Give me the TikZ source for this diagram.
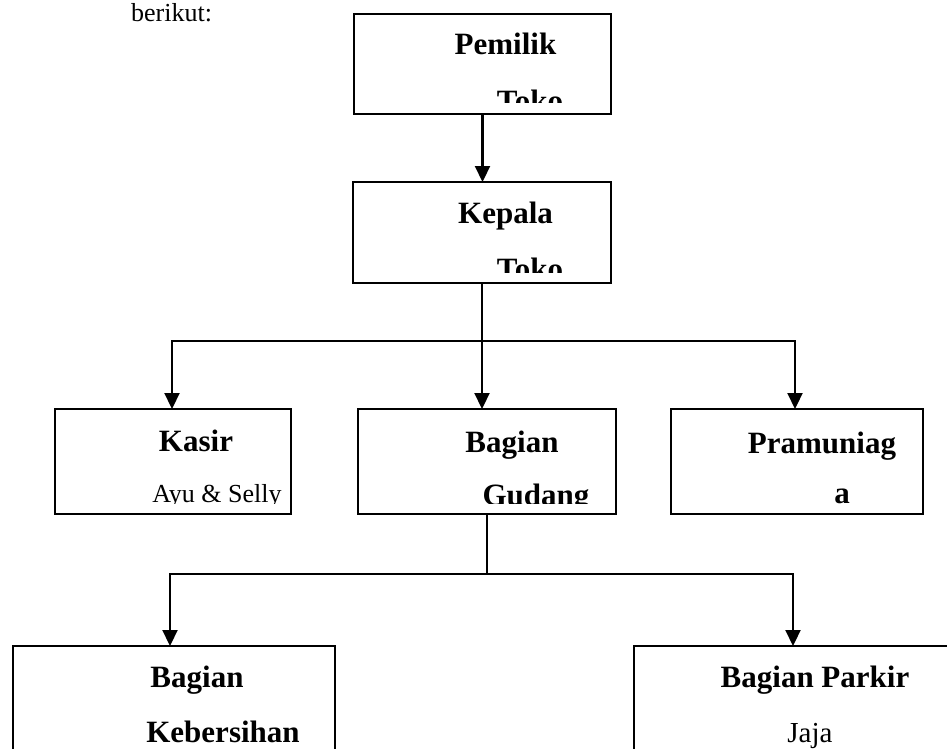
\documentclass[tikz,border=0pt]{standalone}
\usepackage{fontspec}
\setmainfont{Liberation Serif}
\usetikzlibrary{arrows.meta}
\begin{document}
\begin{tikzpicture}[x=1pt,y=-1pt,
  box/.style={draw, line width=2pt, inner sep=0pt, outer sep=0pt, anchor=north west},
  bt/.style={font=\fontsize{31}{36}\selectfont\bfseries, anchor=base, inner sep=0pt},
  rt/.style={font=\fontsize{26}{30}\selectfont, anchor=base, inner sep=0pt},
  rtl/.style={rt, font=\fontsize{29}{33}\selectfont},
  conn/.style={line width=2.2pt},
  arr/.style={conn, -{Triangle[length=16pt,width=15pt]}}
]
\useasboundingbox (0,0) rectangle (947,749);
\clip (0,0) rectangle (947,749);

% intro text
\node[rt, anchor=base west] (intro) at (131,22) {berikut:};

% boxes
\node[box, minimum width=257pt, minimum height=100pt] (pemilik) at (354,14) {};
\node[box, minimum width=258pt, minimum height=101pt] (kepala) at (353,182) {};
\node[box, minimum width=236pt, minimum height=105pt] (kasir) at (55,409) {};
\node[box, minimum width=258pt, minimum height=105pt] (gudang) at (358,409) {};
\node[box, minimum width=252pt, minimum height=105pt] (prama) at (671,409) {};
\node[box, minimum width=322pt, minimum height=130pt] (keb) at (13,646) {};
\node[box, minimum width=340pt, minimum height=130pt] (parkir) at (634,646) {};

% box texts (clipped like the original frames)
\begin{scope}
  \clip (354,14) rectangle (611,103);
  \node[bt] (tpem1) at (505.5,55) {Pemilik};
  \node[bt] (tpem2) at (530,112) {Toko};
\end{scope}
\begin{scope}
  \clip (353,182) rectangle (611,272);
  \node[bt] (tkep1) at (505.5,223) {Kepala};
  \node[bt] (tkep2) at (530,279) {Toko};
\end{scope}
\begin{scope}
  \clip (55,409) rectangle (291,503);
  \node[rt] (tkas2) at (217,502) {Ayu \& Selly};
  \node[bt] (tkas1) at (196,451) {Kasir};
\end{scope}
\begin{scope}
  \clip (358,409) rectangle (616,503);
  \node[bt] (tgud1) at (512,452) {Bagian};
  \node[bt] (tgud2) at (536,505) {Gudang};
\end{scope}
\begin{scope}
  \clip (671,409) rectangle (923,506);
  \node[bt] (tpra1) at (822,453) {Pramuniag};
  \node[bt] (tpra2) at (842,503) {a};
\end{scope}
\node[bt] (tkeb1) at (197,687) {Bagian};
\node[bt] (tkeb2) at (223,742) {Kebersihan};
\node[bt] (tpar1) at (815,687) {Bagian Parkir};
\node[rtl] (tpar2) at (810,742) {Jaja};

% connectors
\draw[arr] (pemilik.south) -- (pemilik.south |- kepala.north);
\draw[arr] (kepala.south) -- (kepala.south |- gudang.north);

\coordinate (j1) at (482.5,341);
\coordinate (j1L) at (172,341);
\coordinate (j1R) at (795,341);
\draw[arr] (j1) -- (j1L) -- (j1L |- kasir.north);
\draw[arr] (j1) -- (j1R) -- (j1R |- prama.north);

\coordinate (j2) at (487,574);
\coordinate (j2L) at (170,574);
\coordinate (j2R) at (793,574);
\draw[conn] (gudang.south) -- (j2);
\draw[arr] (j2) -- (j2L) -- (j2L |- keb.north);
\draw[arr] (j2) -- (j2R) -- (j2R |- parkir.north);
\end{tikzpicture}
\end{document}
